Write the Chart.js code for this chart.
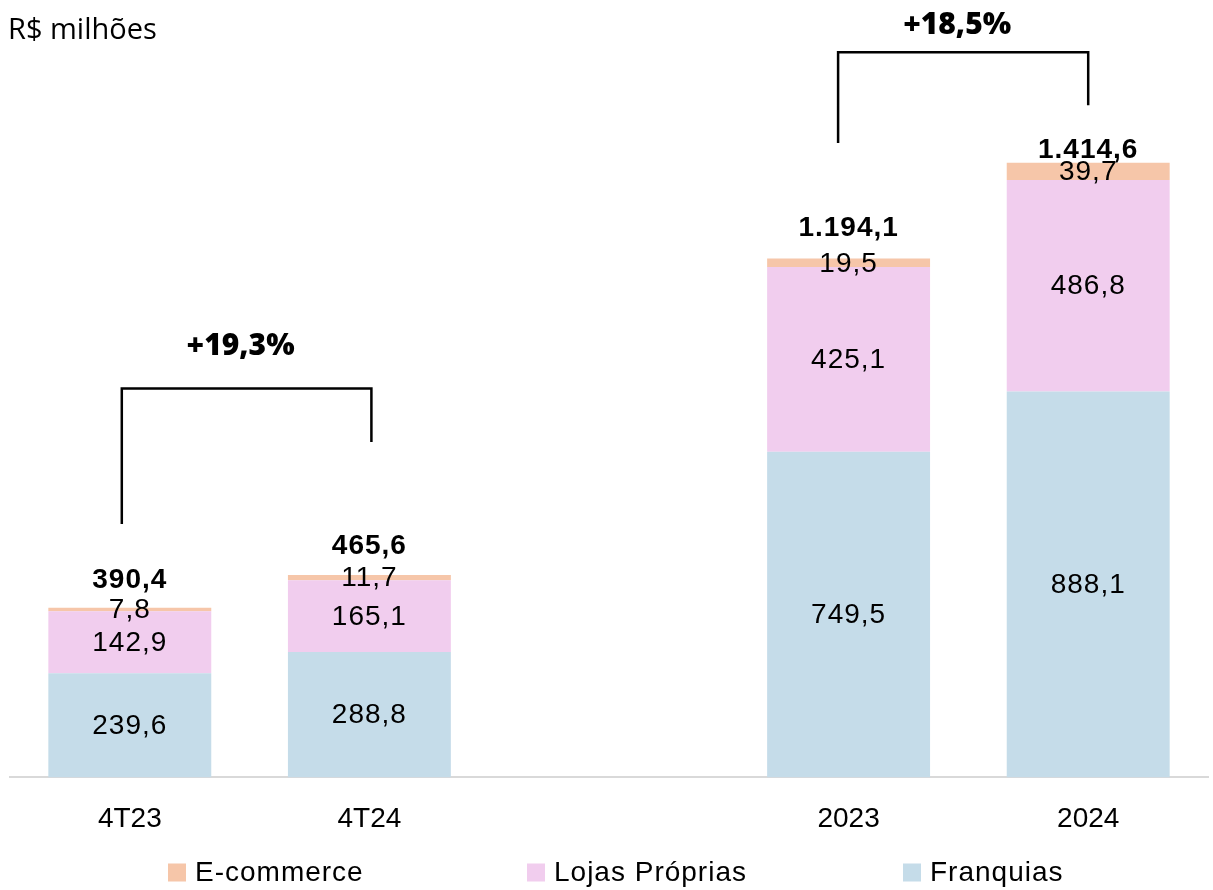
<!DOCTYPE html>
<html lang="pt-BR">
<head>
<meta charset="utf-8">
<title>Receita por canal</title>
<script src="https://cdn.jsdelivr.net/npm/chart.js@4.4.1/dist/chart.umd.min.js"></script>
<style>
  html, body { margin: 0; padding: 0; background: #ffffff; }
  #wrap { position: relative; width: 1213px; height: 890px; }
</style>
</head>
<body>
<div id="wrap"><canvas id="c" width="1213" height="890"></canvas></div>
<script>
// ---- data ----
const categories = ['4T23', '4T24', '', '2023', '2024'];
const franquias = [239.6, 288.8, null, 749.5, 888.1];
const lojasProprias = [142.9, 165.1, null, 425.1, 486.8];
const ecommerce = [7.8, 11.7, null, 19.5, 39.7];
const totals = [390.4, 465.6, null, 1194.1, 1414.6];
const seriesNames = ['Franquias', 'Lojas Próprias', 'E-commerce'];
const unitLabel = 'R$ milhões';
const growthLabels = ['+19,3%', '+18,5%'];

// ---- styles ----
const COLORS = ['#c5dce9', '#f1cdee', '#f6c6a9'];
const NUM_FONT = '"Liberation Sans", Arial, sans-serif';

function fmt(v) {
  const fixed = v.toFixed(1);
  const parts = fixed.split('.');
  const intPart = parts[0].replace(/\B(?=(\d{3})+(?!\d))/g, '.');
  return intPart + ',' + parts[1];
}

const labelsPlugin = {
  id: 'segLabels',
  afterDatasetsDraw(chart, args, opts) {
    const ctx = chart.ctx;
    ctx.save();
    ctx.fillStyle = '#000';
    ctx.textAlign = 'center';
    ctx.textBaseline = 'middle';
    ctx.letterSpacing = '1px';
    ctx.font = '28px ' + NUM_FONT;
    chart.data.datasets.forEach((ds, di) => {
      const meta = chart.getDatasetMeta(di);
      meta.data.forEach((bar, i) => {
        const v = ds.data[i];
        if (v == null) return;
        ctx.fillText(fmt(v), bar.x, (bar.y + bar.base) / 2 + 1);
      });
    });
    // totals
    const top = chart.getDatasetMeta(chart.data.datasets.length - 1);
    ctx.font = 'bold 28px ' + NUM_FONT;
    totals.forEach((t, i) => {
      if (t == null) return;
      const bar = top.data[i];
      ctx.fillText(fmt(t), bar.x, bar.y - opts.totalOffsets[i] + 1);
    });
    ctx.restore();
  }
};

const bracketPlugin = {
  id: 'brackets',
  afterDatasetsDraw(chart, args, opts) {
    const ctx = chart.ctx;
    const xs = chart.scales.x, ys = chart.scales.y;
    ctx.save();
    ctx.strokeStyle = '#000';
    ctx.lineWidth = 2.5;
    opts.items.forEach((b, k) => {
      const x0 = xs.getPixelForValue(b.from) + b.dx0;
      const x1 = xs.getPixelForValue(b.to) + b.dx1;
      const yL = ys.getPixelForValue(b.leftBottom);
      const yT = ys.getPixelForValue(b.top);
      const yR = ys.getPixelForValue(b.rightBottom);
      ctx.beginPath();
      ctx.moveTo(x0, yL);
      ctx.lineTo(x0, yT);
      ctx.lineTo(x1, yT);
      ctx.lineTo(x1, yR);
      ctx.stroke();
      ctx.fillStyle = '#000';
      ctx.font = '800 30px "Open Sans", sans-serif';
      ctx.textAlign = 'center';
      ctx.textBaseline = 'middle';
      ctx.fillText(growthLabels[k], (x0 + x1) / 2 + b.labelDx, ys.getPixelForValue(b.labelY));
    });
    ctx.restore();
  }
};

const titleLegendPlugin = {
  id: 'titleLegend',
  afterDraw(chart, args, opts) {
    const ctx = chart.ctx;
    ctx.save();
    ctx.fillStyle = '#000';
    ctx.textAlign = 'left';
    ctx.textBaseline = 'alphabetic';
    ctx.font = '29px "Open Sans", sans-serif';
    ctx.fillText(unitLabel, 8, 39);
    // legend (reverse order of stacking)
    ctx.font = '28px ' + NUM_FONT;
    ctx.letterSpacing = '1px';
    ctx.textBaseline = 'middle';
    const order = [2, 1, 0];
    order.forEach((di, k) => {
      const ds = chart.data.datasets[di];
      const x = opts.xPositions[k];
      ctx.fillStyle = ds.backgroundColor;
      ctx.fillRect(x, opts.y - 9, 18, 18);
      ctx.fillStyle = '#000';
      ctx.fillText(ds.label, x + 27, opts.y + 1);
    });
    ctx.restore();
  }
};

new Chart(document.getElementById('c'), {
  type: 'bar',
  data: {
    labels: categories,
    datasets: [
      { label: seriesNames[0], data: franquias, backgroundColor: COLORS[0] },
      { label: seriesNames[1], data: lojasProprias, backgroundColor: COLORS[1] },
      { label: seriesNames[2], data: ecommerce, backgroundColor: COLORS[2] }
    ]
  },
  options: {
    responsive: false,
    animation: false,
    devicePixelRatio: 1,
    layout: { padding: { left: 10, right: 5, top: 17, bottom: 29 } },
    datasets: { bar: { categoryPercentage: 1.0, barPercentage: 0.68, borderWidth: 0 } },
    scales: {
      x: {
        stacked: true,
        grid: { display: false, drawTicks: false },
        border: { display: true, color: '#d9d9d9', width: 2 },
        ticks: { color: '#000', font: { family: NUM_FONT, size: 28 }, padding: 25 }
      },
      y: {
        stacked: true,
        display: false,
        min: 0,
        max: 1750
      }
    },
    plugins: {
      legend: { display: false },
      tooltip: { enabled: false },
      segLabels: { totalOffsets: [29, 30, 0, 31, 13] },
      brackets: {
        items: [
          { from: 0, to: 1, dx0: -8, dx1: 2, leftBottom: 583, top: 895, rightBottom: 772, labelY: 991, labelDx: -6 },
          { from: 3, to: 4, dx0: -10.5, dx1: 0, leftBottom: 1460, top: 1669, rightBottom: 1547, labelY: 1730, labelDx: -6 }
        ]
      },
      titleLegend: { xPositions: [168, 527, 903], y: 872.5 }
    }
  },
  plugins: [labelsPlugin, bracketPlugin, titleLegendPlugin]
});
</script>
</body>
</html>
